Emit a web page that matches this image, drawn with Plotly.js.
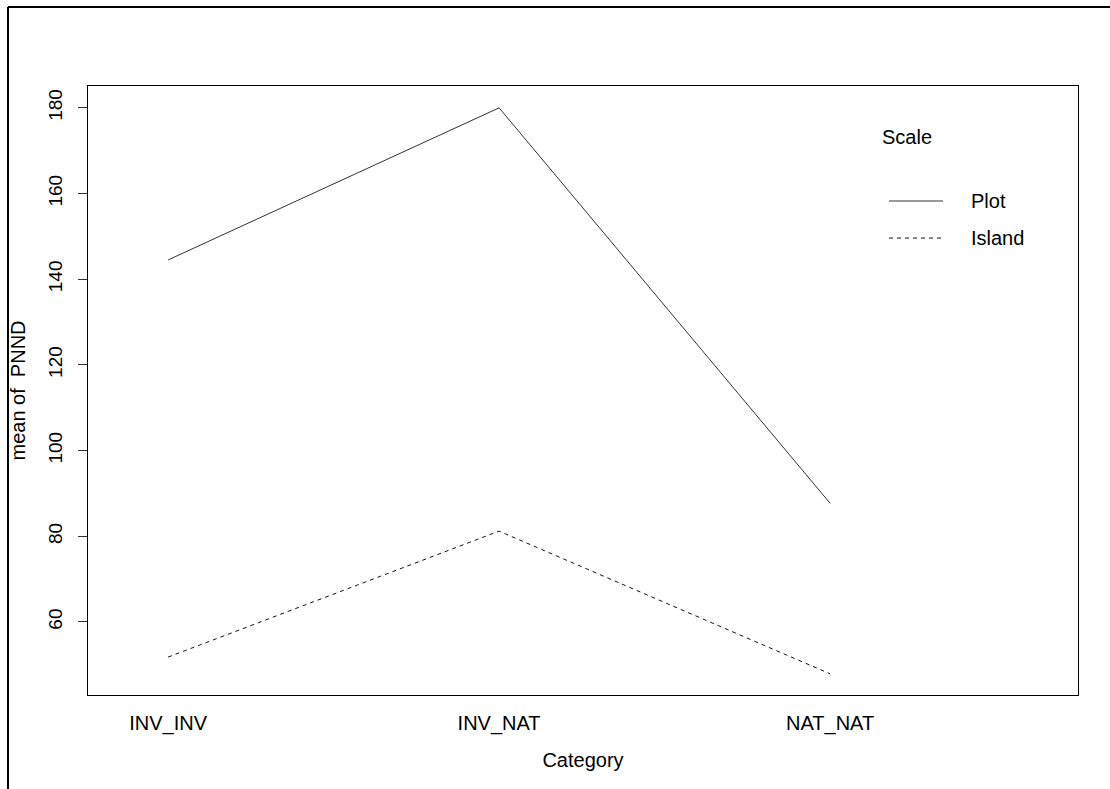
<!DOCTYPE html>
<html>
<head>
<meta charset="utf-8">
<script src="https://cdn.plot.ly/plotly-3.0.1.min.js"></script>
<style>
  html, body { margin: 0; padding: 0; background: #fff; }
  #chart { width: 1110px; height: 789px; }
</style>
</head>
<body>
<div id="chart"></div>
<script>
const categories = ["INV_INV", "INV_NAT", "NAT_NAT"];
const catPos = [1, 2, 3];
const plotValues = [144.5, 180.0, 87.7];
const islandValues = [51.8, 81.2, 47.9];
const seriesNames = ["Plot", "Island"];
const legendTitle = "Scale";
const yTicks = [60, 80, 100, 120, 140, 160, 180];

const font = "Liberation Sans, Arial, sans-serif";
const lineStyles = [
  { color: "#333333", width: 1, dash: "solid" },
  { color: "#111111", width: 1, dash: "4px,4px" }
];

const traces = [
  { x: catPos, y: plotValues, name: seriesNames[0], type: "scatter", mode: "lines", line: lineStyles[0] },
  { x: catPos, y: islandValues, name: seriesNames[1], type: "scatter", mode: "lines", line: lineStyles[1] }
];

// pixel -> paper helpers (plot area: x 88..1078, y 86..695)
const px = v => (v - 88) / 990;
const py = v => (695 - v) / 609;

const legendRows = [201, 238];
const legendShapes = seriesNames.map((n, i) => ({
  type: "line", xref: "paper", yref: "paper",
  x0: px(889), x1: px(943), y0: py(legendRows[i]), y1: py(legendRows[i]),
  line: lineStyles[i]
}));
const legendLabels = seriesNames.map((n, i) => ({
  text: n, xref: "paper", yref: "paper", x: px(969), y: py(legendRows[i]),
  xanchor: "left", yanchor: "middle", showarrow: false,
  font: { family: font, size: 20, color: "#000" }
}));

const layout = {
  width: 1110, height: 789,
  margin: { l: 88, r: 32, t: 86, b: 94 },
  paper_bgcolor: "#ffffff", plot_bgcolor: "#ffffff",
  font: { family: font, size: 20, color: "#000" },
  showlegend: false,
  xaxis: {
    range: [0.758, 3.749],
    tickvals: catPos, ticktext: categories,
    ticks: "", showgrid: false, zeroline: false,
    showline: true, mirror: true, linecolor: "#000", linewidth: 1,
    ticklabelstandoff: 10,
    tickfont: { family: font, size: 20, color: "#000" },
    title: { text: "Category", font: { family: font, size: 20, color: "#000" }, standoff: 18 }
  },
  yaxis: {
    range: [42.95, 185.1],
    tickvals: yTicks,
    ticks: "outside", ticklen: 9, tickcolor: "#333", tickwidth: 1,
    showgrid: false, zeroline: false,
    showline: true, mirror: true, linecolor: "#000", linewidth: 1,
    tickangle: -90, ticklabelstandoff: 8,
    tickfont: { family: font, size: 19, color: "#000" },
    title: { text: "mean of  PNND", font: { family: font, size: 20, color: "#000" }, standoff: 14 }
  },
  annotations: [
    { text: legendTitle, xref: "paper", yref: "paper", x: px(880), y: py(137),
      xanchor: "left", yanchor: "middle", showarrow: false, font: { family: font, size: 20, color: "#000" } }
  ].concat(legendLabels),
  shapes: [
    { type: "line", xref: "paper", yref: "paper", x0: px(8), x1: px(8),
      y0: py(7), y1: py(800), line: { color: "#000", width: 2 } },
    { type: "line", xref: "paper", yref: "paper", x0: px(8), x1: px(1115),
      y0: py(7), y1: py(7), line: { color: "#000", width: 2 } }
  ].concat(legendShapes)
};

Plotly.newPlot("chart", traces, layout, { displayModeBar: false, staticPlot: true });
</script>
</body>
</html>
